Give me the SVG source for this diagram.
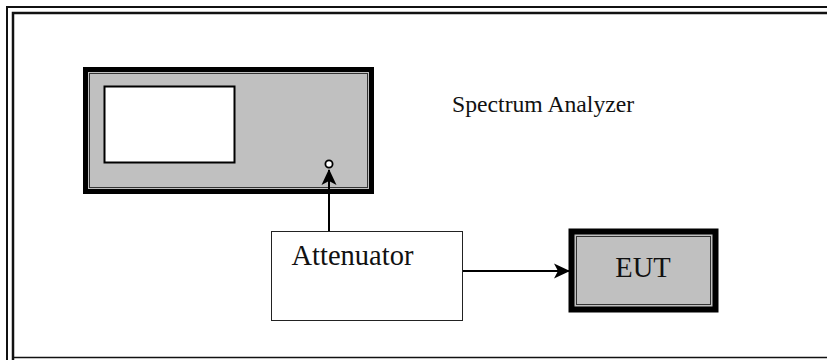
<svg xmlns="http://www.w3.org/2000/svg" width="827" height="360" viewBox="0 0 827 360">
<style>
.lbl{font-family:"Liberation Serif","Times New Roman",serif;fill:#111}
.frame{fill:none;stroke:#111}
.dev-outer{fill:#C0C0C0;stroke:#000;stroke-width:5}
.dev-inner{fill:none;stroke:#333;stroke-width:1}
.conn{stroke:#000;stroke-width:2;fill:none}
</style>
<defs>
<marker id="arr" viewBox="0 0 16 16" refX="15" refY="8" markerWidth="16" markerHeight="16" markerUnits="userSpaceOnUse" orient="auto">
<path d="M0,0.5 L16,8 L0,15.5 L4,8 Z" fill="#000"/>
</marker>
</defs>
<rect width="827" height="360" fill="#fff"/>
<g id="frame">
<path class="frame" stroke-width="2" d="M7,360 V7 H827"/>
<path class="frame" stroke-width="2.5" d="M13,360 V13 H827"/>
<path class="frame" stroke-width="1.5" d="M13,357.5 H827"/>
</g>
<g id="spectrum-analyzer">
<rect class="dev-outer" x="85.5" y="69.5" width="286" height="122"/>
<rect class="dev-inner" x="89.5" y="73.5" width="278" height="114"/>
<rect x="104.5" y="86.5" width="130" height="76" fill="#fff" stroke="#000" stroke-width="2"/>
<circle cx="329" cy="164" r="3.6" fill="#fff" stroke="#000" stroke-width="1.8"/>
<text class="lbl" x="452" y="112" font-size="23.7">Spectrum Analyzer</text>
</g>
<g id="attenuator">
<rect x="271.5" y="231.5" width="191" height="89" fill="#fff" stroke="#222" stroke-width="1"/>
<text class="lbl" x="291.5" y="265" font-size="28.5">Attenuator</text>
</g>
<g id="eut">
<rect x="571.5" y="231.5" width="144" height="78" fill="#C0C0C0" stroke="#000" stroke-width="6"/>
<rect class="dev-inner" x="576.5" y="236.5" width="134" height="68"/>
<text class="lbl" x="643" y="277" font-size="28.5" text-anchor="middle">EUT</text>
</g>
<g id="connectors">
<line class="conn" x1="329" y1="231" x2="329" y2="170" marker-end="url(#arr)"/>
<line class="conn" x1="463" y1="271" x2="569" y2="271" marker-end="url(#arr)"/>
</g>
</svg>
